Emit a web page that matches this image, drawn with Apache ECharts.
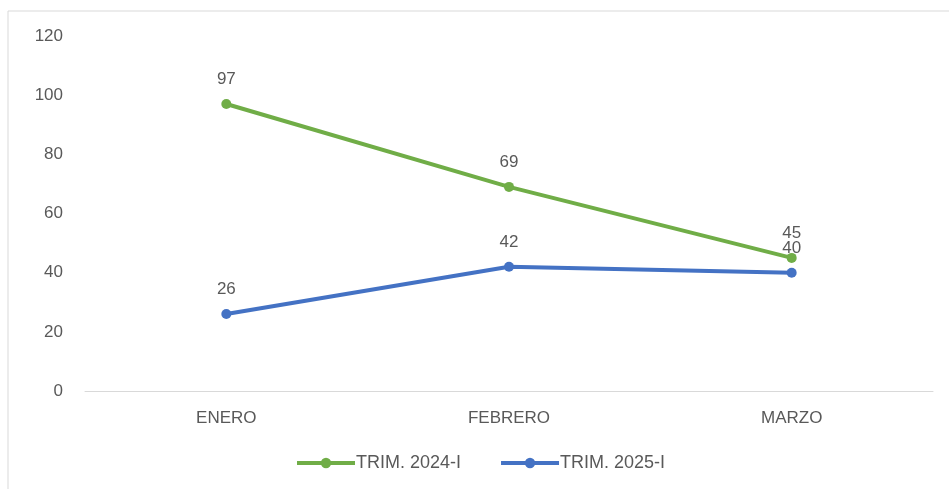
<!DOCTYPE html>
<html><head><meta charset="utf-8">
<script src="https://cdn.jsdelivr.net/npm/echarts@6/dist/echarts.min.js"></script>
<style>html,body{margin:0;padding:0;background:#fff}#c{width:949px;height:489px}</style>
</head><body><div id="c"></div>
<script>
const categories = ['ENERO', 'FEBRERO', 'MARZO'];
const seriesNames = ['TRIM. 2024-I', 'TRIM. 2025-I'];
const trim2024 = [97, 69, 45];
const trim2025 = [26, 42, 40];
const yTicks = { min: 0, max: 120, interval: 20 };

const font = '"Liberation Sans", "DejaVu Sans", sans-serif';
const chart = echarts.init(document.getElementById('c'), null, { renderer: 'canvas' });
const mk = (name, data, color) => ({
  name, type: 'line', data,
  symbol: 'circle', symbolSize: 10,
  lineStyle: { width: 4, color },
  itemStyle: { color },
  label: { show: true, position: 'top', distance: 11, color: '#595959', fontSize: 17, fontFamily: font },
  animation: false
});
chart.setOption({
  animation: false,
  graphic: [{ type: 'rect', shape: { x: 8, y: 11, width: 960, height: 500 }, style: { fill: 'none', stroke: '#d9d9d9', lineWidth: 1 }, silent: true }],
  grid: { left: 85, right: 16, top: 36, bottom: 98, containLabel: false },
  legend: {
    bottom: 12, left: 290, itemWidth: 58, itemHeight: 13, itemGap: 38,
    lineStyle: { width: 4 },
    textStyle: { color: '#595959', fontSize: 18, fontFamily: font, padding: [0, 0, 0, -4] },
    data: seriesNames
  },
  xAxis: {
    type: 'category', data: categories, boundaryGap: true,
    axisLine: { lineStyle: { color: '#d9d9d9', width: 1 } },
    axisTick: { show: false },
    axisLabel: { color: '#595959', fontSize: 17, fontFamily: font, margin: 19 }
  },
  yAxis: {
    type: 'value', min: yTicks.min, max: yTicks.max, interval: yTicks.interval,
    axisLine: { show: false }, axisTick: { show: false },
    splitLine: { show: false },
    axisLabel: { color: '#595959', fontSize: 17, fontFamily: font, margin: 22 }
  },
  series: [mk(seriesNames[0], trim2024, '#70AD47'), mk(seriesNames[1], trim2025, '#4472C4')]
});
</script></body></html>
